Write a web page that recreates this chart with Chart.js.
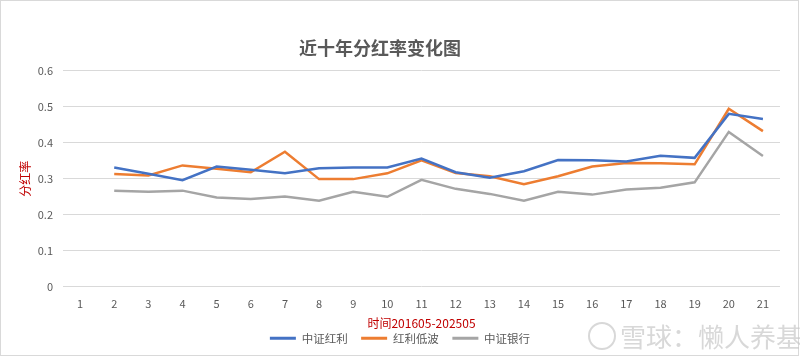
<!DOCTYPE html>
<html><head><meta charset="utf-8">
<script src="https://cdn.jsdelivr.net/npm/chart.js@4/dist/chart.umd.min.js"></script>
<style>html,body{margin:0;padding:0;background:#fff;}#wrap{width:800px;height:358px;position:relative;}</style>
</head><body><div id="wrap"><canvas id="c" width="800" height="358"></canvas></div>
<script>
const categories = ['1','2','3','4','5','6','7','8','9','10','11','12','13','14','15','16','17','18','19','20','21'];
const csiDividend = [null,0.331,0.314,0.296,0.334,0.325,0.315,0.329,0.331,0.331,0.356,0.318,0.303,0.321,0.352,0.351,0.348,0.364,0.358,0.480,0.466];
const dividendLowVol = [null,0.313,0.309,0.337,0.328,0.318,0.375,0.299,0.299,0.315,0.351,0.316,0.307,0.285,0.307,0.334,0.344,0.343,0.340,0.494,0.432];
const csiBank = [null,0.267,0.264,0.267,0.248,0.244,0.251,0.239,0.264,0.250,0.297,0.272,0.258,0.239,0.264,0.256,0.270,0.275,0.290,0.430,0.363];
const yTicks = [0,0.1,0.2,0.3,0.4,0.5,0.6];
const seriesNames = ['中证红利','红利低波','中证银行'];

const FONT = '"Noto Sans CJK SC", "Noto Sans", sans-serif';
const frame = {
  id:'frame',
  afterDraw(chart){
    const ctx = chart.ctx;
    ctx.save();
    ctx.strokeStyle = '#d9d9d9';
    ctx.lineWidth = 1;
    ctx.strokeRect(0.5,0.5,798,355);
    ctx.fillStyle = 'rgba(200,200,200,0.7)';
    ctx.font = '26px ' + FONT;
    ctx.textBaseline = 'middle';
    ctx.fillText('雪球：懒人养基', 620, 337);
    ctx.beginPath();
    ctx.arc(602,336,13,0,Math.PI*2);
    ctx.strokeStyle='rgba(200,200,200,0.7)';
    ctx.lineWidth=2;
    ctx.stroke();
    ctx.restore();
  }
};

new Chart(document.getElementById('c'), {
  type:'line',
  data:{
    labels: categories,
    datasets:[
      {label:seriesNames[0], data:csiDividend, borderColor:'#4472C4', backgroundColor:'#4472C4', borderWidth:2.5, pointRadius:0, tension:0},
      {label:seriesNames[1], data:dividendLowVol, borderColor:'#ED7D31', backgroundColor:'#ED7D31', borderWidth:2.5, pointRadius:0, tension:0},
      {label:seriesNames[2], data:csiBank, borderColor:'#A5A5A5', backgroundColor:'#A5A5A5', borderWidth:2.5, pointRadius:0, tension:0}
    ]
  },
  options:{
    responsive:false, animation:false,
    layout:{padding:{left:20,right:20,top:37,bottom:4}},
    plugins:{
      title:{display:true, text:'近十年分红率变化图\u3000\u3000 ', color:'#595959', font:{family:FONT,size:18,weight:'bold'}, padding:{top:0,bottom:12}},
      legend:{position:'bottom', labels:{
        usePointStyle:true, pointStyle:'line', pointStyleWidth:26, color:'#595959', font:{family:FONT,size:11.5}, padding:2,
        generateLabels(chart){
          const items = Chart.defaults.plugins.legend.labels.generateLabels(chart);
          items.forEach((it,i)=>{ if(i<items.length-1) it.text = it.text + '\u3000'; it.lineWidth = 3; });
          return items;
        }
      }},
      tooltip:{enabled:false}
    },
    scales:{
      x:{
        offset:true,
        grid:{display:false},
        border:{display:false},
        ticks:{color:'#595959', font:{family:FONT,size:11}, maxRotation:0, padding:2},
        title:{display:true, text:'时间201605-202505', color:'#c00000', font:{family:FONT,size:12}, padding:{top:4,bottom:0}}
      },
      y:{
        min:0, max:0.6,
        afterBuildTicks(axis){ axis.ticks = yTicks.map(v=>({value:v})); },
        afterFit(axis){ axis.width = 43; },
        grid:{color:'#d9d9d9', drawTicks:false},
        border:{display:false},
        ticks:{color:'#595959', font:{family:FONT,size:11}, padding:10, callback:v=>String(v)},
        title:{display:true, text:'分红率', color:'#c00000', font:{family:FONT,size:12}, padding:{top:-2,bottom:0}}
      }
    }
  },
  plugins:[frame]
});
</script></body></html>
